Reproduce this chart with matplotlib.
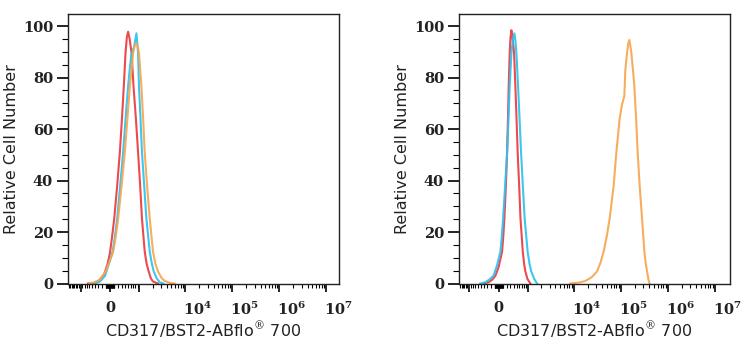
import numpy as np
import matplotlib
matplotlib.use('Agg')
import matplotlib.pyplot as plt
import matplotlib.transforms as mtransforms

plt.rcParams['mathtext.fontset'] = 'dejavuserif'

# biexponential-like display scale (arcsinh)
W = 500.0


def fwd(x):
    return np.arcsinh(np.asarray(x, dtype=float) / W) / np.log(10)


def inv(u):
    return W * np.sinh(np.asarray(u, dtype=float) * np.log(10))


# ---- data (fluorescence, relative cell number) ----
# left panel
l_red_x = [-650, -420, -298, -147, -60, 0, 50, 105, 180, 251, 310, 365, 418, 460, 504,
           560, 633, 713, 820, 927, 1040, 1145, 1325, 1470, 1630, 1820, 2027, 2600]
l_red_y = [0, 0.2, 0.8, 3.5, 7.5, 12, 18, 25.3, 38, 51, 64, 76.6, 89.5, 95.5, 97.8,
           95, 89.5, 76.6, 64, 51, 38, 25.3, 12.4, 7.5, 4.7, 2, 0.8, 0]

l_blue_x = [-520, -360, -251, -122, -30, 65, 120, 180, 260, 345, 420, 504, 570, 633, 740, 845,
            890, 927, 974, 1060, 1145, 1290, 1445, 1716, 1900, 2100, 2450, 2835, 3400]
l_blue_y = [0, 0.2, 0.8, 3, 7.5, 12.4, 18, 25.3, 38, 51, 64, 76.6, 84, 89.5, 92, 97.2,
            93, 89.5, 76.6, 64, 51, 38, 25.3, 12.4, 8, 4.7, 2, 0.5, 0]

l_orange_x = [-600, -450, -251, -97, -10, 80, 140, 206, 300, 396, 480, 566, 640, 697, 768, 830, 882,
              930, 974, 1112, 1220, 1325, 1500, 1716, 2027, 2300, 2603, 3100, 3633, 4600, 5940]
l_orange_y = [0, 0.4, 1.5, 5, 8.5, 12.4, 18, 25.3, 38, 51, 64, 76.6, 84, 89.5, 92.5, 93.2, 93,
              91.5, 89.5, 76.6, 64, 51, 38, 25.3, 12.4, 7.5, 4.7, 2.2, 1, 0.3, 0]

# right panel
r_red_x = [-400, -255, -160, -81, 0, 84, 112, 142, 180, 212, 235, 255, 283, 305, 332,
           370, 414, 456, 495, 535, 590, 641, 737, 800, 857, 960, 1128]
r_red_y = [0, 0.5, 1.5, 3, 6.5, 12.4, 18, 25.3, 38, 51, 64, 76.6, 89.5, 95.5, 98.4,
           95, 89.5, 76.6, 64, 51, 38, 25.3, 12.4, 7.5, 4.7, 1.8, 0]

r_blue_x = [-520, -350, -240, -131, -50, 42, 75, 109, 160, 212, 250, 283, 332, 380, 424,
            460, 490, 550, 605, 665, 740, 822, 972, 1080, 1185, 1380, 1602]
r_blue_y = [0, 0.5, 1.5, 3, 6.5, 12.4, 18, 25.3, 38, 51, 64, 76.6, 89.5, 95, 97.2,
            94, 89.5, 76.6, 64, 51, 38, 25.3, 12.4, 7.5, 4.7, 1.8, 0]

r_orange_x = [8360, 13000, 17460, 24000, 30900, 36500, 42800, 50000, 57500, 69900, 79800, 93800,
              105000, 118000, 124000, 134600, 142000, 150600, 158000, 166600, 180000, 192800,
              210000, 226500, 250000, 280700, 315000, 335000, 359400, 385000, 407300]
r_orange_y = [0, 0.4, 1, 2.5, 4.7, 8, 12.4, 18.5, 25.3, 38, 51, 64,
              69.5, 72.8, 83, 89.5, 93, 94.6, 92.5, 89.5, 83, 76.6,
              64, 51, 38, 25.3, 12.4, 8, 4.7, 1.5, 0]

x_major = [-1000, 0, 1000, 1e4, 1e5, 1e6, 1e7]
x_labels = ['', '0', '', r'$\mathbf{10^{4}}$', r'$\mathbf{10^{5}}$', r'$\mathbf{10^{6}}$', r'$\mathbf{10^{7}}$']
y_major = [0, 20, 40, 60, 80, 100]

RED = '#ec3a40'
BLUE = '#2cc2ef'
ORANGE = '#f6a650'

# minor tick positions for the display scale
x_minor = [v for v in range(-1900, 1000, 100)]
x_minor += [v for v in range(-100, 101, 10)]
for dec in [1e3, 1e4, 1e5, 1e6]:
    x_minor += [m * dec for m in range(2, 10)]

fig = plt.figure(figsize=(7.44, 3.5), dpi=100)
axL = fig.add_axes([68.3 / 744, 1 - 284.3 / 350, 270.7 / 744, 270.3 / 350])
axR = fig.add_axes([459.3 / 744, 1 - 284.3 / 350, 270.4 / 744, 270.3 / 350])

panels = [
    (axL, [(l_red_x, l_red_y, RED), (l_blue_x, l_blue_y, BLUE), (l_orange_x, l_orange_y, ORANGE)], (-1896, 1.87e7)),
    (axR, [(r_orange_x, r_orange_y, ORANGE), (r_red_x, r_red_y, RED), (r_blue_x, r_blue_y, BLUE)], (-1686, 2.06e7)),
]

for ax, curves, xl in panels:
    ax.set_xscale('function', functions=(fwd, inv))
    for xs, ys, c in curves:
        ax.plot(xs, ys, color=c, lw=1.5, alpha=0.92, solid_joinstyle='round')
    ax.set_xlim(*xl)
    ax.set_ylim(-0.3, 104.7)

    ax.set_xticks(x_major)
    ax.set_xticklabels(x_labels)
    ax.set_xticks([v for v in x_minor if xl[0] < v < xl[1]], minor=True)
    ax.set_yticks(y_major)
    ax.set_yticklabels([str(v) for v in y_major])
    ax.set_yticks(np.arange(0, 105, 5), minor=True)

    ax.tick_params(axis='x', which='major', length=6, width=1.2, pad=6)
    ax.tick_params(axis='x', which='minor', length=3, width=0.8)
    ax.tick_params(axis='y', which='major', length=8, width=1.2, pad=3)
    ax.tick_params(axis='y', which='minor', length=4, width=0.8)

    for lab in ax.get_xticklabels() + ax.get_yticklabels():
        lab.set_family('DejaVu Serif')
        lab.set_fontweight('bold')
        lab.set_fontsize(10.5)
        lab.set_color('#222222')
    for lab in ax.get_xticklabels()[3:]:
        lab.set_horizontalalignment('left')
        lab.set_transform(lab.get_transform() + mtransforms.ScaledTranslation(-2 / 100, 0, fig.dpi_scale_trans))

    for sp in ax.spines.values():
        sp.set_linewidth(1.0)
        sp.set_color('#222222')

    ax.set_xlabel('CD317/BST2-ABflo$^{®}$ 700', fontsize=11.5, labelpad=1, color='#222222')
    ax.set_ylabel('Relative Cell Number', fontsize=11.5, color='#222222')
    ax.yaxis.set_label_coords(-0.182, 0.5)

fig.savefig('out.png', dpi=100)
